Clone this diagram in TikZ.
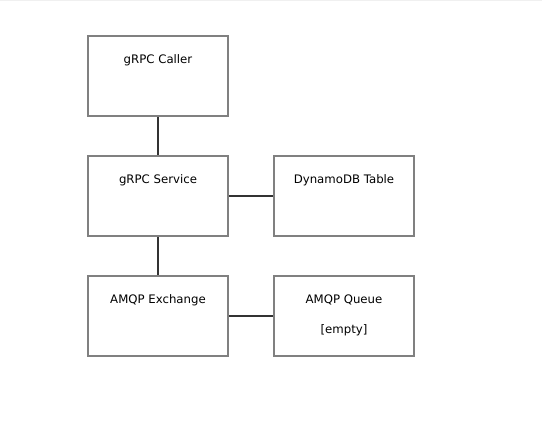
\documentclass[tikz,border=0pt]{standalone}
\usepackage{fontspec}
\setmainfont{DejaVu Sans}
\usetikzlibrary{positioning}
\definecolor{boxgray}{HTML}{808080}
\definecolor{linegray}{HTML}{333333}
\tikzset{
  box/.style={draw=boxgray,line width=1.5pt,minimum width=105pt,minimum height=60pt,inner sep=0pt},
  lbl/.style={font=\fontsize{8.8}{10}\selectfont,inner sep=0pt},
  conn/.style={draw=linegray,line width=1pt}
}
\begin{document}
\begin{tikzpicture}[x=0.75pt,y=-0.75pt]
      \useasboundingbox (0,0) rectangle (542,428);
      \draw[black!6,line width=1pt] (0,0.5) -- (542,0.5);
      % boxes
      \node[box] (caller) at (158,76) {};
      \node[box] (service) at (158,196) {};
      \node[box] (dynamo) at (344,196) {};
      \node[box] (exchange) at (158,316) {};
      \node[box] (queue) at (344,316) {};
      % labels
      \node[lbl,below=14.6pt of caller.north] (callerlbl) {gRPC Caller};
      \node[lbl,below=14.6pt of service.north] (servicelbl) {gRPC Service};
      \node[lbl,below=14.6pt of dynamo.north] (dynamolbl) {DynamoDB Table};
      \node[lbl,below=14.6pt of exchange.north] (exchangelbl) {AMQP Exchange};
      \node[lbl,below=14.6pt of queue.north] (queuelbl) {AMQP Queue};
      \node[lbl,below=37.1pt of queue.north] (queueempty) {[empty]};
      % connectors
      \draw[conn] (caller) -- (service);
      \draw[conn] (service) -- (dynamo);
      \draw[conn] (service) -- (exchange);
      \draw[conn] (exchange) -- (queue);
    \end{tikzpicture}
\end{document}
